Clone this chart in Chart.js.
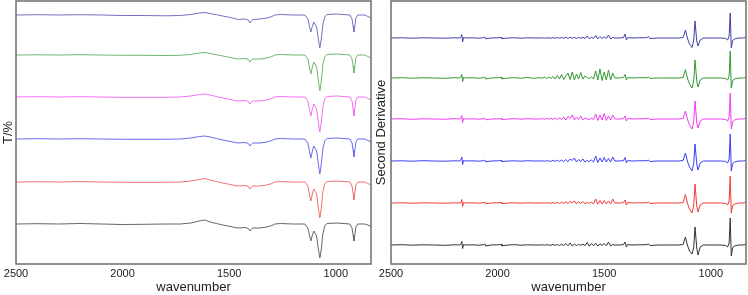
<!DOCTYPE html>
<html>
<head>
<meta charset="utf-8">
<script src="https://cdn.jsdelivr.net/npm/chart.js@4.4.1/dist/chart.umd.min.js"></script>
<style>
  html, body { margin: 0; padding: 0; background: #fff; }
  #wrap { position: relative; width: 748px; height: 295px; }
  #irBox { position: absolute; left: 0; top: 0; width: 373px; height: 295px; }
  #derivBox { position: absolute; left: 373px; top: 0; width: 375px; height: 295px; }
</style>
</head>
<body>
<div id="wrap">
  <div id="irBox"><canvas id="irChart" width="373" height="295"></canvas></div>
  <div id="derivBox"><canvas id="derivChart" width="375" height="295"></canvas></div>
</div>
<script>
// x axis ticks (wavenumber, reversed axis)
const xTicks = [2500, 2000, 1500, 1000];
const xMax = 2500;
const xMin = 835;

// ---- left panel: IR spectra (T/%), values relative to each trace's baseline ----
const irX = [2500, 2400, 2300, 2200, 2100, 2000, 1900, 1800, 1730, 1680, 1640, 1614, 1590, 1560, 1530, 1483, 1460, 1426, 1410, 1403,
  1395, 1389, 1356, 1323, 1300, 1286, 1260, 1201, 1145, 1131, 1124, 1117, 1110, 1103, 1090, 1082, 1075, 1068, 1061, 1052,
  1042, 995, 934, 924, 919, 915, 911, 906, 897, 864, 850, 835];

const irBlue1 = [0, 0.3, 0, 0.3, 0, -0.5, -0.5, -0.8, -0.5, 0.5, 2, 2.5, 1.5, 0.3, -1, -3, -4.5, -4, -5, -8,
  -5.5, -4.5, -4, -3, -1.5, 0, 0.5, 0, 0, -4, -11, -17, -11, -7, -12, -24, -33, -24, -10, -2,
  0.5, 1, 0, -4, -11, -17, -11, -3, 0, 0, -1.5, -3];
const irGreen = [0, 0.2, 0, 0.3, 0, -0.3, -0.3, -0.5, -0.3, 0.5, 2, 2.5, 1.5, 0.3, -1, -3, -4, -3.5, -4.5, -7,
  -5, -4, -4, -3, -1.5, 0, 0.5, 0, 0, -4, -12, -19, -12, -7, -12, -26, -36, -26, -10, -2,
  0.5, 1, 0, -4, -11, -18, -11, -3, 0, 0, -1.5, -3];
const irMagenta = [0, 0.3, 0, 0.3, 0, -0.3, -0.3, -0.3, 0, 1, 2.5, 3, 2, 0.5, -1, -3, -4, -3.5, -4.5, -7,
  -5, -4, -4, -3, -1.5, 0, 0.5, 0, 0, -4, -12, -19, -12, -7, -12, -25, -35, -25, -10, -2,
  0.5, 1, 0, -4, -12, -19, -12, -3, 0, 0, -1.5, -3];
const irBlue2 = [0, 0.3, 0, 0.3, 0, -0.3, -0.3, -0.3, 0, 1, 2.5, 3, 2, 0.5, -1, -3, -4, -3.5, -4.5, -7,
  -5, -4, -4, -3, -1.5, 0, 0.5, 0, 0, -4, -12, -19, -12, -7, -12, -25, -35, -25, -10, -2,
  0.5, 1, 0, -4, -11, -18, -11, -3, 0, 0, -1.5, -3];
const irRed = [0, 0.3, 0, 0.5, 0, -0.3, -0.3, -0.3, 0, 1, 2.5, 3.5, 2, 0.5, -1, -3, -4, -3.5, -4.5, -7,
  -5, -4, -4, -3, -1.5, 0, 0.5, 0, 0, -4, -12, -19, -12, -7, -12, -26, -36, -26, -10, -2,
  0.5, 1, 0, -4, -11, -18, -11, -3, 0, 0, -1.5, -3];
const irBlack = [0, 0.3, 0, 0.5, 0, -0.5, -0.3, 0, 0, 1, 3, 4, 2, 0.5, -1, -3, -4, -3.5, -4.5, -7,
  -5, -4, -4, -3, -1.5, 0, 0.5, 0, 0, -4, -11, -17, -11, -7, -12, -25, -34, -25, -10, -2,
  0.5, 1, 0, -4, -11, -17, -11, -3, 0, 0, -1, -2.5];

// stacking offsets (top to bottom)
const irOffsets = [249, 209, 167, 125, 82, 40];
const irColors = ['#7373c4', '#6fb56f', '#f46ef4', '#6b6bf2', '#f27070', '#666666'];

// ---- right panel: second derivative ----
const derivX = [
  2500, 2450, 2400, 2350, 2300, 2250, 2200, 2180, 2172, 2168, 2164, 2160, 2150, 2120, 2090, 2064, 2060, 2056, 2030, 2000,
  1988, 1984, 1980, 1950, 1920, 1890, 1860, 1830,
  1800, 1790, 1780, 1770, 1760, 1750, 1740, 1730, 1720, 1710, 1700, 1690, 1680, 1670, 1660, 1650, 1640, 1630, 1620, 1610,
  1600, 1590, 1580, 1570, 1560, 1550, 1540, 1530, 1520, 1510, 1500, 1490, 1480, 1470, 1460, 1450,
  1430, 1410, 1402, 1396, 1390, 1370, 1340, 1300, 1292, 1286, 1250, 1200, 1150, 1130, 1119, 1110, 1100, 1088, 1080, 1074,
  1066, 1060, 1050, 1035, 980, 950, 930, 921, 914, 909, 904, 898, 890, 870, 850, 840, 835];

const derivBlue1 = [
  0, 0.2, -0.2, 0.2, 0, -0.2, 0.2, 0, 0.8, 3.5, -4, 0.5, 0, 0.2, -0.2, 0.3, 1, -0.8, 0, 0.2, 0.3, 0.8, -0.6, 0, 0.2, -0.2, 0.2, 0,
  0, 0.2, -0.2, 0.2, 0, -0.2, 0.3, -0.2, 0.4, -0.3, 0.5, -0.3, 0.6, -0.4, 0.8, -0.3, 0.6, -0.4, 0.5, -0.3, 0.8, -0.5, 2, -0.8, 0.6, -0.4, 2.5, -0.8, 1.5, -0.6, 1.2, -0.5, 3, -1, 0.5, 0,
  0, 0.3, 4, -2, 0.5, 0, 0.2, 0.3, 1.5, -0.5, 0, 0, 0, 0.5, 8, 0, -6, -9.5, -2, 17, -3, -8, -2, 0, 0, 0, -0.5, -2, 2, 25, -10, -3, -1, 0, 0, 0.3, 1.5];
const derivGreen = [
  0, 0.3, -0.2, 0.2, 0, -0.3, 0.3, 0, 1, 3.5, -3.5, 0.5, 0, 0.3, -0.2, 0.3, 1.2, -1, 0, 0.3, 0.3, 1, -0.8, 0, 0.3, -0.3, 0.5, -0.3,
  0.3, -0.3, 0.8, -0.5, 1, -0.6, 1.5, -1, 2.5, -1, 3.5, -1.5, 2, 5, -1.5, 6, -2, 4, -1, 5.5, -1, 2, 0.5, -0.5, 1, -1, 7, -2, 9, -2.5, 6, -2, 8, -2, 5, 0,
  0, 0.5, 3.5, -2, 0.5, 0, 0.3, 0.3, 1, -0.5, 0, 0, 0, 0.5, 8.5, 0, -6, -10, -2, 18, -3, -9, -2, 0, 0, 0, -0.5, -2, 2, 27, -10, -3, -1, 0, 0, 0.3, 1.5];
const derivMagenta = [
  0, 0.3, -0.3, 0.2, 0, -0.2, 0.3, 0, 0.8, 3.5, -3.5, 0.5, 0, 0.2, -0.2, 0.3, 1, -0.8, 0, 0.2, 0.3, 0.8, -0.6, 0, 0.3, -0.2, 0.3, 0,
  0, 0.3, -0.3, 0.5, -0.3, 0.8, -0.5, 1, -0.6, 1.5, -0.8, 2, -1, 2.5, 0.5, 4, -1, 2, -0.5, 3, -1, 1, 0, -0.5, 0.8, -0.5, 5, -1.5, 4, -1, 5.5, -1.5, 3, -1, 4, 0,
  0, 0.3, 3, -2, 0.5, 0, 0.2, 0.3, 1, -0.5, 0, 0, 0, 0.5, 8, 0, -6, -10, -2, 18, -3, -9, -2, 0, 0, 0, -0.5, -2, 2, 26, -10, -3, -1, 0, 0, 0.3, 1.5];
const derivBlue2 = [
  0, 0.2, -0.2, 0.3, 0, -0.2, 0.2, 0, 1, 4, -3.5, 0.5, 0, 0.2, -0.2, 0.3, 1, -0.8, 0, 0.2, 0.3, 0.8, -0.6, 0, 0.2, -0.2, 0.3, 0,
  0, 0.2, -0.2, 0.3, 0, -0.3, 0.5, -0.3, 0.8, -0.5, 1, -0.6, 1.5, -0.8, 2, 0.5, 3, -1, 1.5, -0.5, 2, -1, 0.5, -0.5, 1, -1, 5, -1.5, 3, -1, 3.5, -1, 2.5, -1, 4, 0,
  0, 0.3, 3.5, -2, 0.5, 0, 0.2, 0.3, 1, -0.5, 0, 0, 0, 0.5, 8, 0, -6, -10, -2, 17, -3, -9, -2, 0, 0, 0, -0.5, -2, 2, 27, -10, -3, -1, 0, 0, 0.3, 1.5];
const derivRed = [
  0, 0.2, -0.2, 0.2, 0, -0.2, 0.2, 0, 0.8, 3.5, -3.5, 0.5, 0, 0.2, -0.2, 0.3, 1, -0.8, 0, 0.2, 0.3, 0.8, -0.6, 0, 0.2, -0.2, 0.2, 0,
  0, 0.2, -0.2, 0.3, 0, -0.2, 0.4, -0.3, 0.6, -0.4, 0.8, -0.5, 1.2, -0.6, 1.5, 0.3, 2, -0.8, 1.2, -0.5, 1.5, -0.8, 0.5, -0.3, 0.8, -0.8, 4, -1.2, 2.5, -1, 2.5, -0.8, 2, -1, 4, 0,
  0, 0.3, 3, -2, 0.5, 0, 0.2, 0.3, 1, -0.5, 0, 0, 0, 0.5, 8.5, 0, -6, -10, -2, 19, -3, -9, -2, 0, 0, 0, -0.5, -2, 2, 27, -10, -3, -1, 0, 0, 0.3, 1.5];
const derivBlack = [
  0, 0.3, -0.2, 0.2, 0, -0.3, 0.2, 0, 0.8, 3.5, -3.5, 0.5, 0, 0.2, -0.2, 0.3, 1.2, -1, 0, 0.2, 0.3, 1, -0.8, 0, 0.3, -0.2, 0.2, 0,
  0, 0.2, -0.2, 0.3, 0, -0.3, 0.5, -0.4, 0.6, -0.5, 0.8, -0.6, 1.5, -0.8, 2, -1, 0.8, -0.5, 0.6, -0.3, 1, -0.6, 2.5, -1.2, 1.5, -0.8, 1.8, -1, 1.2, -0.5, 1.5, -0.8, 3, -1, 0.5, 0,
  0, 0.3, 3, -2, 0.5, 0, 0.2, 0.3, 1.2, -0.5, 0, 0, 0, 0.5, 8, 0, -6, -9, -2, 18, -3, -10, -2, 0, 0, 0, -0.5, -2, 2, 27, -11, -3, -1, 0, 0, 0.3, 2];

const derivOffsets = [226, 186, 145, 103, 61, 19];
const derivColors = ['#4040a8', '#339633', '#f03cf0', '#3d3df5', '#f03a3a', '#333333'];

Chart.defaults.font.family = '"Liberation Sans", Arial, sans-serif';
Chart.defaults.color = '#222';

// draws the box round the plot area
const frame = {
    id: 'frame',
    afterDraw(chart) {
        const a = chart.chartArea;
        const ctx = chart.ctx;
        ctx.save();
        ctx.strokeStyle = '#6e6e6e';
        ctx.lineWidth = 1.5;
        ctx.strokeRect(a.left, a.top, a.right - a.left, a.bottom - a.top);
        ctx.restore();
    }
};

function makeSets(xs, series, offsets, colors) {
    return series.map(function (vals, k) {
        return {
            data: xs.map((x, i) => ({ x: x, y: offsets[k] + vals[i] })),
            borderColor: colors[k],
            borderWidth: 1,
            pointRadius: 0,
            tension: 0,
            fill: false
        };
    });
}

function makeChart(id, sets, yTitle, yWidth) {
    new Chart(document.getElementById(id).getContext('2d'), {
        type: 'line',
        data: { datasets: sets },
        options: {
            responsive: false,
            animation: false,
            parsing: false,
            layout: { padding: { top: 1, right: 2, left: 0, bottom: 0 } },
            plugins: { legend: { display: false }, tooltip: { enabled: false } },
            scales: {
                x: {
                    type: 'linear',
                    reverse: true,
                    min: xMin,
                    max: xMax,
                    grid: { display: false, drawTicks: false },
                    border: { display: false },
                    ticks: {
                        font: { size: 11 }, padding: 3, maxRotation: 0, color: '#222',
                        callback: v => String(v)   // no thousands separator
                    },
                    afterBuildTicks(scale) { scale.ticks = xTicks.map(v => ({ value: v })); },
                    afterFit(scale) { scale.height = 31; },
                    title: { display: true, text: 'wavenumber', font: { size: 13 }, padding: { top: 0, bottom: 0 }, color: '#222' }
                },
                y: {
                    min: 0,
                    max: 263,
                    grid: { display: false, drawTicks: false },
                    border: { display: false },
                    ticks: { display: false },
                    afterFit(scale) { scale.width = yWidth; },
                    title: { display: true, text: yTitle, font: { size: 13 }, padding: { top: 1, bottom: 0 }, color: '#222' }
                }
            }
        },
        plugins: [frame]
    });
}

makeChart('irChart',
    makeSets(irX, [irBlue1, irGreen, irMagenta, irBlue2, irRed, irBlack], irOffsets, irColors),
    'T/%', 16);
makeChart('derivChart',
    makeSets(derivX, [derivBlue1, derivGreen, derivMagenta, derivBlue2, derivRed, derivBlack], derivOffsets, derivColors),
    'Second Derivative', 18);
</script>
</body>
</html>
